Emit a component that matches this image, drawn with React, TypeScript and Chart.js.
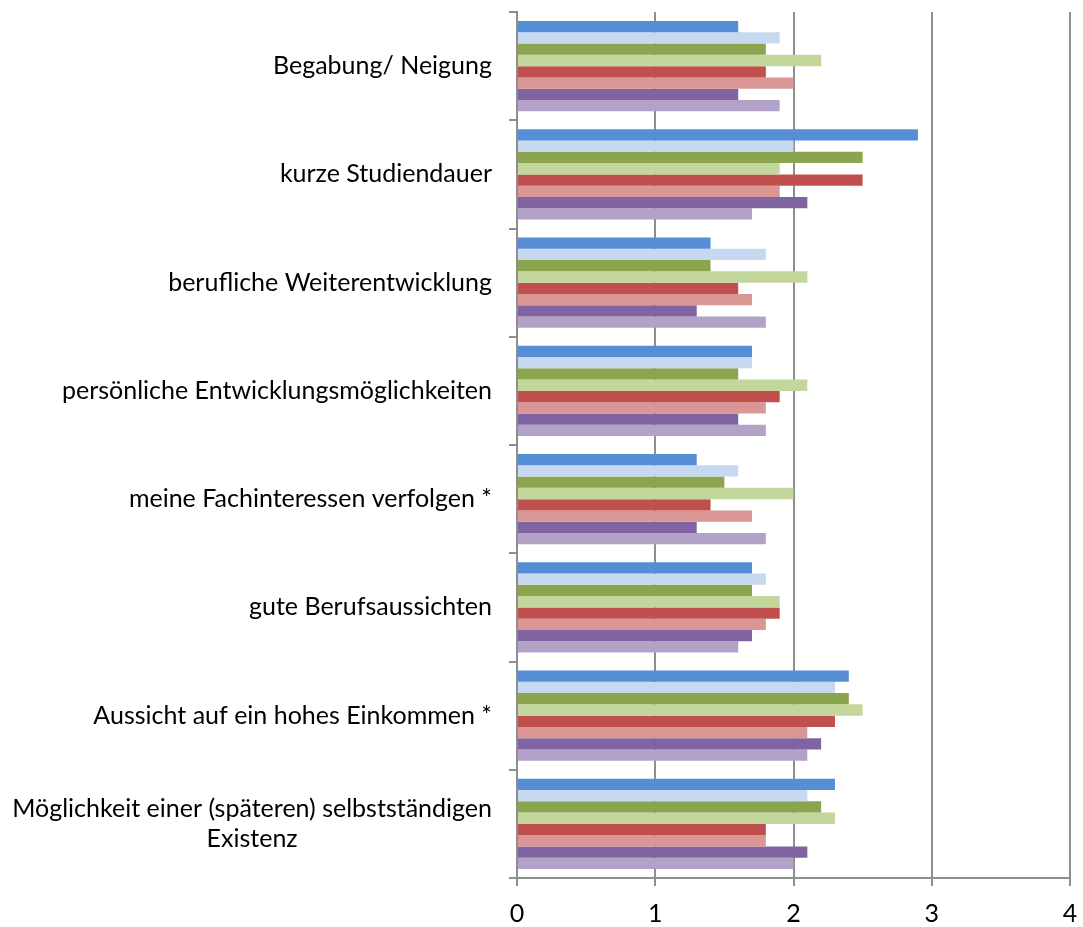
import React, { useEffect, useRef } from "react";
import { Chart, registerables } from "chart.js";

Chart.register(...registerables);

const categories: string[][] = [
  ["Begabung/ Neigung"],
  ["kurze Studiendauer"],
  ["berufliche Weiterentwicklung"],
  ["persönliche Entwicklungsmöglichkeiten"],
  ["meine Fachinteressen verfolgen *"],
  ["gute Berufsaussichten"],
  ["Aussicht auf ein hohes Einkommen *"],
  ["Möglichkeit einer (späteren) selbstständigen", "Existenz"],
];

const xTickValues = [0, 1, 2, 3, 4];

const series1 = [1.6, 2.9, 1.4, 1.7, 1.3, 1.7, 2.4, 2.3];
const series2 = [1.9, 2.0, 1.8, 1.7, 1.6, 1.8, 2.3, 2.1];
const series3 = [1.8, 2.5, 1.4, 1.6, 1.5, 1.7, 2.4, 2.2];
const series4 = [2.2, 1.9, 2.1, 2.1, 2.0, 1.9, 2.5, 2.3];
const series5 = [1.8, 2.5, 1.6, 1.9, 1.4, 1.9, 2.3, 1.8];
const series6 = [2.0, 1.9, 1.7, 1.8, 1.7, 1.8, 2.1, 1.8];
const series7 = [1.6, 2.1, 1.3, 1.6, 1.3, 1.7, 2.2, 2.1];
const series8 = [1.9, 1.7, 1.8, 1.8, 1.8, 1.6, 2.1, 2.0];

const seriesValues = [series1, series2, series3, series4, series5, series6, series7, series8];
const seriesColors = [
  "#558ED5",
  "#C6D9F1",
  "#8BA54E",
  "#C3D69B",
  "#C0504D",
  "#D99694",
  "#8064A2",
  "#B3A2C7",
];

const FONT = "Lato, 'Open Sans', sans-serif";
const LABEL_SIZE = 25;
const AXIS_COLOR = "#8E8E8E";

const yLabelPlugin = {
  id: "yLabelPlugin",
  afterDraw(chart: any) {
    const yScale = chart.scales.y;
    const ctx = chart.ctx;
    const rightEdge = chart.chartArea.left - 25;
    const lineHeight = LABEL_SIZE * 1.2;
    ctx.save();
    ctx.font = `${LABEL_SIZE}px ${FONT}`;
    ctx.fillStyle = "#000000";
    ctx.textBaseline = "middle";
    ctx.textAlign = "center";
    categories.forEach((lines, i) => {
      const cy = yScale.getPixelForTick(i);
      const widest = Math.max(...lines.map((l) => ctx.measureText(l).width));
      const cx = rightEdge - widest / 2;
      const startY = cy - ((lines.length - 1) * lineHeight) / 2;
      lines.forEach((l, j) => {
        ctx.fillText(l, cx, startY + j * lineHeight);
      });
    });
    ctx.restore();
  },
};

export default function App() {
  const canvasRef = useRef<HTMLCanvasElement | null>(null);

  useEffect(() => {
    if (!canvasRef.current) return;
    const chart = new Chart(canvasRef.current, {
      type: "bar",
      data: {
        labels: categories.map((c) => c.join(" ")),
        datasets: seriesValues.map((vals, i) => ({
          label: `Serie ${i + 1}`,
          data: vals,
          backgroundColor: seriesColors[i],
          borderWidth: 0,
          categoryPercentage: 0.833,
          barPercentage: 1.0,
        })),
      },
      options: {
        indexAxis: "y",
        animation: false,
        responsive: true,
        maintainAspectRatio: false,
        layout: { padding: { top: 12, right: 13, left: 0, bottom: 0 } },
        plugins: {
          legend: { display: false },
          tooltip: { enabled: false },
        },
        scales: {
          x: {
            type: "linear",
            min: 0,
            max: 4,
            afterBuildTicks: (scale: any) => {
              scale.ticks = xTickValues.map((v) => ({ value: v }));
            },
            ticks: {
              color: "#000000",
              font: { family: FONT, size: LABEL_SIZE },
              padding: 13,
              maxRotation: 0,
            },
            afterFit: (scale: any) => {
              scale.height = 49;
              scale.paddingRight = 0;
              scale.paddingLeft = 0;
            },
            grid: {
              color: AXIS_COLOR,
              lineWidth: 2,
              tickLength: 8,
              drawTicks: true,
            },
            border: { display: true, color: AXIS_COLOR, width: 2 },
          },
          y: {
            type: "category",
            offset: true,
            afterFit: (scale: any) => {
              scale.width = 517;
            },
            ticks: { display: false },
            grid: {
              offset: true,
              drawOnChartArea: false,
              drawTicks: true,
              tickLength: 8,
              color: AXIS_COLOR,
              lineWidth: 2,
            },
            border: { display: true, color: AXIS_COLOR, width: 2 },
          },
        },
      },
      plugins: [yLabelPlugin],
    });
    return () => chart.destroy();
  }, []);

  return (
    <div
      style={{
        position: "fixed",
        left: 0,
        top: 0,
        width: "1083px",
        height: "927px",
        background: "#ffffff",
      }}
    >
      <canvas ref={canvasRef} />
    </div>
  );
}
